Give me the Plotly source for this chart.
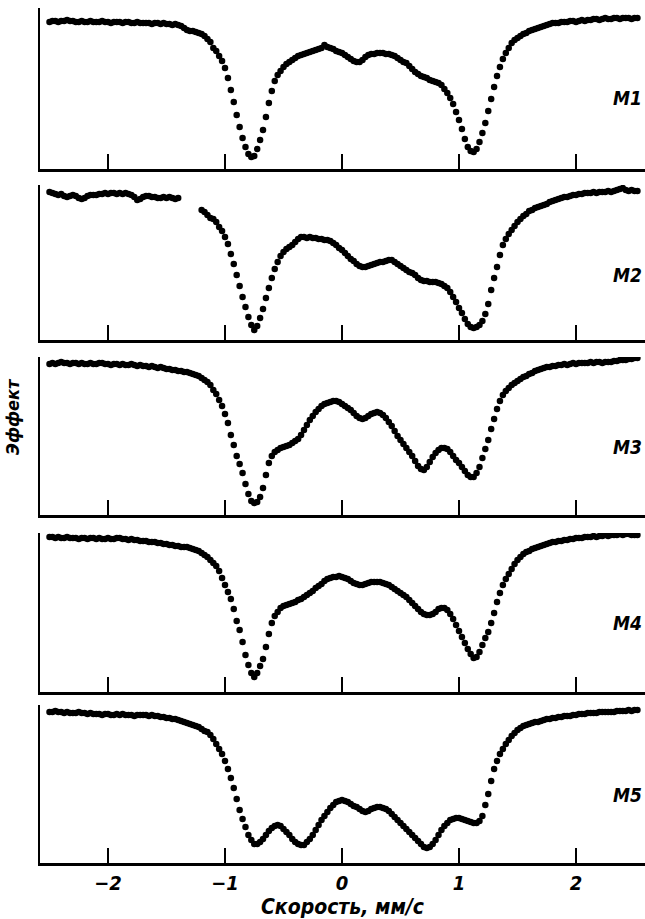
import numpy as np
import plotly.graph_objects as go

# Doppler velocity grid, mm/s (channel step 0.025)
velocity = np.round(-2.5 + 0.025 * np.arange(202), 3)

# Relative transmission (arbitrary units)
m1 = [
    147, 148, 148, 147, 148, 148, 149, 148,
    148, 147, 147, 148, 147, 147, 148, 147,
    147, 147, 148, 147, 147, 146, 147, 147,
    147, 146, 147, 147, 146, 146, 147, 146,
    146, 146, 146, 145, 146, 146, 145, 146,
    145, 145, 144, 145, 144, 143, 141, 139,
    138, 138, 137, 136, 135, 133, 130, 127,
    121, 118, 113, 108, 101, 91, 79, 67,
    54, 42, 31, 22, 15, 12, 13, 20,
    29, 39, 52, 66, 78, 88, 94, 98,
    102, 105, 107, 109, 111, 113, 114, 115,
    116, 117, 118, 119, 120, 121, 124, 122,
    121, 120, 118, 117, 116, 114, 112, 110,
    108, 107, 107, 109, 112, 114, 115, 115,
    116, 116, 116, 115, 115, 114, 113, 111,
    109, 107, 106, 103, 100, 97, 95, 93,
    92, 91, 89, 88, 87, 86, 84, 80,
    76, 71, 65, 57, 49, 40, 30, 22,
    18, 17, 20, 27, 36, 46, 58, 70,
    82, 93, 102, 110, 116, 121, 126, 129,
    131, 133, 135, 136, 138, 139, 140, 141,
    142, 143, 144, 145, 146, 146, 146, 147,
    147, 147, 148, 148, 147, 148, 149, 148,
    149, 149, 150, 150, 149, 150, 151, 150,
    150, 151, 151, 150, 151, 151, 151, 150,
    151, 151,
]
m2 = [
    148, 147, 146, 145, 146, 144, 143, 144,
    145, 144, 142, 141, 142, 144, 145, 145,
    145, 146, 146, 147, 146, 147, 147, 146,
    147, 146, 147, 146, 145, 143, 140, 141,
    143, 144, 144, 143, 143, 142, 142, 143,
    142, 143, 142, 141, 142, None, None, None,
    None, None, None, None, 130, 128, 125, 122,
    121, 118, 113, 109, 103, 96, 86, 76,
    65, 54, 43, 33, 23, 15, 10, 14,
    22, 31, 42, 52, 62, 71, 78, 84,
    88, 91, 93, 95, 98, 101, 103, 103,
    102, 103, 102, 102, 101, 101, 100, 100,
    99, 97, 95, 92, 90, 87, 84, 81,
    79, 76, 74, 73, 73, 74, 75, 76,
    77, 78, 78, 79, 80, 80, 78, 76,
    74, 72, 70, 68, 67, 65, 62, 60,
    59, 59, 58, 58, 58, 57, 56, 54,
    52, 48, 43, 38, 32, 27, 21, 16,
    13, 12, 13, 15, 19, 26, 36, 50,
    62, 73, 85, 95, 101, 106, 110, 114,
    118, 121, 124, 126, 129, 130, 132, 133,
    134, 135, 136, 138, 139, 140, 141, 142,
    143, 143, 144, 145, 145, 146, 146, 147,
    147, 147, 148, 147, 148, 148, 148, 149,
    148, 149, 150, 151, 152, 150, 149, 150,
    149, 149,
]
m3 = [
    151, 152, 151, 152, 153, 152, 152, 151,
    152, 152, 151, 152, 151, 151, 152, 151,
    151, 152, 152, 151, 151, 150, 151, 151,
    150, 151, 150, 150, 151, 150, 149, 150,
    149, 149, 148, 149, 148, 147, 148, 147,
    146, 146, 145, 145, 144, 144, 143, 143,
    142, 141, 140, 139, 137, 135, 133, 130,
    125, 121, 115, 109, 101, 92, 80, 70,
    59, 51, 42, 31, 21, 14, 12, 13,
    18, 27, 40, 52, 59, 63, 65, 67,
    68, 69, 70, 72, 74, 76, 80, 85,
    90, 95, 99, 103, 106, 109, 111, 112,
    113, 114, 114, 113, 111, 109, 107, 105,
    102, 99, 97, 96, 97, 99, 101, 102,
    103, 102, 100, 97, 93, 89, 84, 79,
    75, 71, 67, 63, 59, 54, 49, 46,
    45, 48, 53, 58, 62, 65, 67, 67,
    66, 63, 59, 55, 52, 48, 44, 40,
    38, 38, 42, 48, 57, 66, 75, 86,
    96, 106, 114, 120, 124, 127, 130, 132,
    134, 136, 138, 139, 141, 142, 144, 145,
    146, 147, 148, 148, 149, 149, 150, 150,
    151, 150, 151, 152, 151, 152, 152, 152,
    152, 153, 152, 153, 153, 152, 153, 153,
    153, 154, 154, 155, 155, 155, 156, 156,
    157, 157,
]
m4 = [
    155, 155, 154, 155, 154, 154, 155, 154,
    154, 154, 153, 154, 154, 153, 154, 154,
    153, 154, 153, 153, 154, 153, 153, 154,
    154, 153, 153, 152, 153, 152, 152, 151,
    151, 151, 150, 150, 150, 149, 149, 148,
    148, 147, 147, 146, 146, 145, 145, 145,
    144, 143, 142, 141, 139, 137, 135, 132,
    129, 126, 121, 114, 107, 100, 93, 83,
    71, 62, 50, 37, 27, 19, 15, 19,
    26, 33, 45, 58, 69, 76, 80, 84,
    86, 87, 88, 89, 90, 92, 93, 95,
    97, 99, 101, 104, 106, 108, 111, 113,
    114, 115, 115, 116, 115, 114, 113, 111,
    109, 108, 107, 107, 108, 109, 110, 110,
    110, 110, 109, 108, 107, 105, 103, 101,
    99, 97, 95, 92, 89, 86, 83, 80,
    78, 77, 77, 78, 80, 83, 84, 84,
    82, 78, 73, 67, 61, 55, 49, 43,
    38, 34, 35, 40, 47, 54, 60, 69,
    79, 90, 99, 107, 113, 118, 123, 128,
    132, 135, 138, 140, 141, 143, 144, 145,
    146, 147, 148, 149, 150, 150, 151, 151,
    152, 152, 153, 153, 154, 154, 154, 155,
    155, 155, 156, 155, 156, 156, 157, 156,
    157, 157, 157, 158, 157, 158, 158, 157,
    157, 157,
]
m5 = [
    151, 151, 152, 151, 151, 150, 151, 150,
    150, 150, 151, 150, 150, 149, 150, 149,
    149, 149, 148, 149, 149, 148, 148, 149,
    148, 149, 148, 148, 148, 147, 148, 148,
    148, 148, 147, 148, 147, 147, 146, 146,
    145, 145, 144, 144, 143, 142, 141, 140,
    139, 138, 137, 136, 134, 132, 131, 128,
    124, 119, 114, 109, 102, 94, 85, 75,
    64, 53, 44, 36, 28, 23, 19, 19,
    21, 24, 28, 32, 35, 37, 38, 37,
    34, 31, 28, 24, 21, 19, 18, 18,
    21, 24, 28, 33, 38, 43, 47, 51,
    55, 58, 61, 62, 63, 62, 61, 59,
    57, 56, 54, 52, 51, 52, 54, 55,
    56, 56, 55, 54, 52, 49, 46, 43,
    40, 37, 34, 31, 28, 25, 22, 19,
    16, 15, 16, 19, 23, 28, 33, 37,
    40, 43, 44, 45, 45, 44, 43, 42,
    41, 40, 40, 42, 47, 58, 69, 82,
    94, 102, 109, 114, 119, 123, 127, 130,
    133, 135, 137, 138, 139, 140, 141, 141,
    142, 143, 144, 144, 145, 145, 146, 146,
    147, 147, 147, 148, 148, 149, 149, 149,
    150, 150, 150, 150, 151, 151, 151, 151,
    151, 151, 152, 152, 152, 152, 153, 152,
    153, 153,
]

sample_labels = ["M1", "M2", "M3", "M4", "M5"]
spectra = [m1, m2, m3, m4, m5]
tick_values = [-2, -1, 0, 1, 2]
tick_text = ["\u22122", "\u22121", "0", "1", "2"]
x_title = "Скорость, мм/с"
y_title = "Эффект"

for s in spectra:
    assert len(s) == len(velocity)

W, H = 645, 919
panel_px = [(8, 169), (185, 340), (357, 515), (533, 692), (705, 863)]
left_px = 40
x_range = [(left_px - 342) / 117.0, (W - 342) / 117.0]
FONT = "DejaVu Sans Condensed, DejaVu Sans, sans-serif"

fig = go.Figure()
layout = dict(
    width=W, height=H,
    margin=dict(l=0, r=0, t=0, b=0),
    paper_bgcolor="white", plot_bgcolor="white",
    showlegend=False,
    font=dict(family=FONT, color="black"),
)
annotations = []
for i, (lab, ys) in enumerate(zip(sample_labels, spectra)):
    n = "" if i == 0 else str(i + 1)
    top, bot = panel_px[i]
    fig.add_trace(go.Scatter(
        x=velocity, y=ys, mode="markers",
        marker=dict(size=6.5, color="black", line=dict(width=0)),
        xaxis="x" + n, yaxis="y" + n, hoverinfo="skip",
    ))
    last = (i == len(spectra) - 1)
    layout["xaxis" + n] = dict(
        domain=[left_px / W, 1.0], range=x_range, anchor="y" + n,
        showgrid=False, zeroline=False, showline=True, linewidth=3, linecolor="black",
        ticks="inside", ticklen=15, tickwidth=2, tickcolor="black",
        tickvals=tick_values, ticktext=tick_text,
        showticklabels=last,
        tickfont=dict(family=FONT, size=20, style="italic", weight="bold", color="black"),
        title=dict(text=x_title if last else "",
                   font=dict(family=FONT, size=21, style="italic", weight="bold", color="black"),
                   standoff=2),
    )
    layout["yaxis" + n] = dict(
        domain=[1 - bot / H, 1 - top / H], range=[0, bot - top], anchor="x" + n,
        showgrid=False, zeroline=False, showline=True, linewidth=2, linecolor="black",
        ticks="", showticklabels=False,
    )
    annotations.append(dict(
        text=lab, xref="paper", yref="paper", x=627 / W, y=1 - (top + 90) / H,
        showarrow=False, xanchor="center", yanchor="middle",
        font=dict(family=FONT, size=19, style="italic", weight="bold", color="black"),
    ))

annotations.append(dict(
    text=y_title, xref="paper", yref="paper", x=13 / W, y=1 - 417 / H,
    textangle=-90, showarrow=False, xanchor="center", yanchor="middle",
    font=dict(family=FONT, size=18, style="italic", weight="bold", color="black"),
))
layout["annotations"] = annotations
fig.update_layout(**layout)
fig.write_html(
    "out.html",
    config={"displayModeBar": False, "staticPlot": True},
    post_script="document.body.style.margin='0';document.body.style.overflow='hidden';",
)
